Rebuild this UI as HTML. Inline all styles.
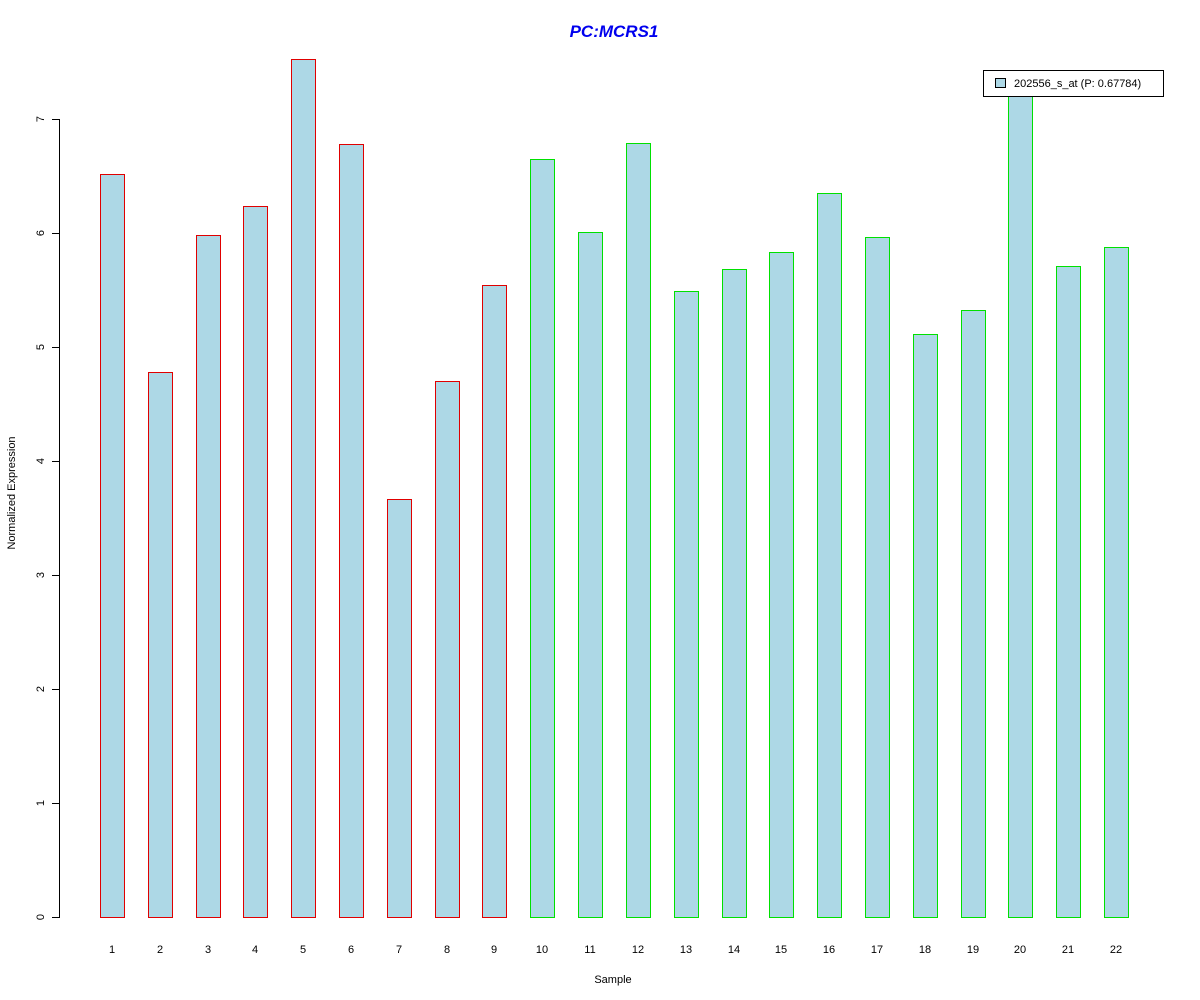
<!DOCTYPE html>
<html><head><meta charset="utf-8"><style>html,body{margin:0;padding:0;background:#fff}svg{display:block}</style></head>
<body>
<svg width="1200" height="1000" xmlns="http://www.w3.org/2000/svg" font-family="Liberation Sans, sans-serif">
<text x="614" y="37" text-anchor="middle" font-size="17" font-weight="bold" font-style="italic" fill="#0000ee">PC:MCRS1</text>
<g fill="#000">
<rect x="59" y="119" width="1" height="799"/>
<rect x="52" y="917" width="8" height="1"/>
<rect x="52" y="803" width="8" height="1"/>
<rect x="52" y="689" width="8" height="1"/>
<rect x="52" y="575" width="8" height="1"/>
<rect x="52" y="461" width="8" height="1"/>
<rect x="52" y="347" width="8" height="1"/>
<rect x="52" y="233" width="8" height="1"/>
<rect x="52" y="119" width="8" height="1"/>
</g>
<g font-size="11" text-anchor="middle" fill="#000">
<text transform="translate(44,917) rotate(-90)">0</text>
<text transform="translate(44,803) rotate(-90)">1</text>
<text transform="translate(44,689) rotate(-90)">2</text>
<text transform="translate(44,575) rotate(-90)">3</text>
<text transform="translate(44,461) rotate(-90)">4</text>
<text transform="translate(44,347) rotate(-90)">5</text>
<text transform="translate(44,233) rotate(-90)">6</text>
<text transform="translate(44,119) rotate(-90)">7</text>
<text transform="translate(15,493) rotate(-90)">Normalized Expression</text>
<text x="613" y="983">Sample</text>
</g>
<g fill="#e00000">
<rect x="100" y="174" width="25" height="744"/>
<rect x="148" y="372" width="25" height="546"/>
<rect x="196" y="235" width="25" height="683"/>
<rect x="243" y="206" width="25" height="712"/>
<rect x="291" y="59" width="25" height="859"/>
<rect x="339" y="144" width="25" height="774"/>
<rect x="387" y="499" width="25" height="419"/>
<rect x="435" y="381" width="25" height="537"/>
<rect x="482" y="285" width="25" height="633"/>
</g>
<g fill="#00e000">
<rect x="530" y="159" width="25" height="759"/>
<rect x="578" y="232" width="25" height="686"/>
<rect x="626" y="143" width="25" height="775"/>
<rect x="674" y="291" width="25" height="627"/>
<rect x="722" y="269" width="25" height="649"/>
<rect x="769" y="252" width="25" height="666"/>
<rect x="817" y="193" width="25" height="725"/>
<rect x="865" y="237" width="25" height="681"/>
<rect x="913" y="334" width="25" height="584"/>
<rect x="961" y="310" width="25" height="608"/>
<rect x="1008" y="96" width="25" height="822"/>
<rect x="1056" y="266" width="25" height="652"/>
<rect x="1104" y="247" width="25" height="671"/>
</g>
<g fill="#add8e6">
<rect x="101" y="175" width="23" height="742"/>
<rect x="149" y="373" width="23" height="544"/>
<rect x="197" y="236" width="23" height="681"/>
<rect x="244" y="207" width="23" height="710"/>
<rect x="292" y="60" width="23" height="857"/>
<rect x="340" y="145" width="23" height="772"/>
<rect x="388" y="500" width="23" height="417"/>
<rect x="436" y="382" width="23" height="535"/>
<rect x="483" y="286" width="23" height="631"/>
<rect x="531" y="160" width="23" height="757"/>
<rect x="579" y="233" width="23" height="684"/>
<rect x="627" y="144" width="23" height="773"/>
<rect x="675" y="292" width="23" height="625"/>
<rect x="723" y="270" width="23" height="647"/>
<rect x="770" y="253" width="23" height="664"/>
<rect x="818" y="194" width="23" height="723"/>
<rect x="866" y="238" width="23" height="679"/>
<rect x="914" y="335" width="23" height="582"/>
<rect x="962" y="311" width="23" height="606"/>
<rect x="1009" y="97" width="23" height="820"/>
<rect x="1057" y="267" width="23" height="650"/>
<rect x="1105" y="248" width="23" height="669"/>
</g>
<g font-size="11" text-anchor="middle" fill="#000">
<text x="112" y="953">1</text><text x="160" y="953">2</text><text x="208" y="953">3</text>
<text x="255" y="953">4</text><text x="303" y="953">5</text><text x="351" y="953">6</text>
<text x="399" y="953">7</text><text x="447" y="953">8</text><text x="494" y="953">9</text>
<text x="542" y="953">10</text><text x="590" y="953">11</text><text x="638" y="953">12</text>
<text x="686" y="953">13</text><text x="734" y="953">14</text><text x="781" y="953">15</text>
<text x="829" y="953">16</text><text x="877" y="953">17</text><text x="925" y="953">18</text>
<text x="973" y="953">19</text><text x="1020" y="953">20</text><text x="1068" y="953">21</text>
<text x="1116" y="953">22</text>
</g>
<rect x="983" y="70" width="181" height="27" fill="#000"/>
<rect x="984" y="71" width="179" height="25" fill="#fff"/>
<rect x="995" y="78" width="11" height="10" fill="#000"/>
<rect x="996" y="79" width="9" height="8" fill="#add8e6"/>
<text x="1014" y="87" font-size="11">202556_s_at (P: 0.67784)</text>
</svg>
</body></html>
